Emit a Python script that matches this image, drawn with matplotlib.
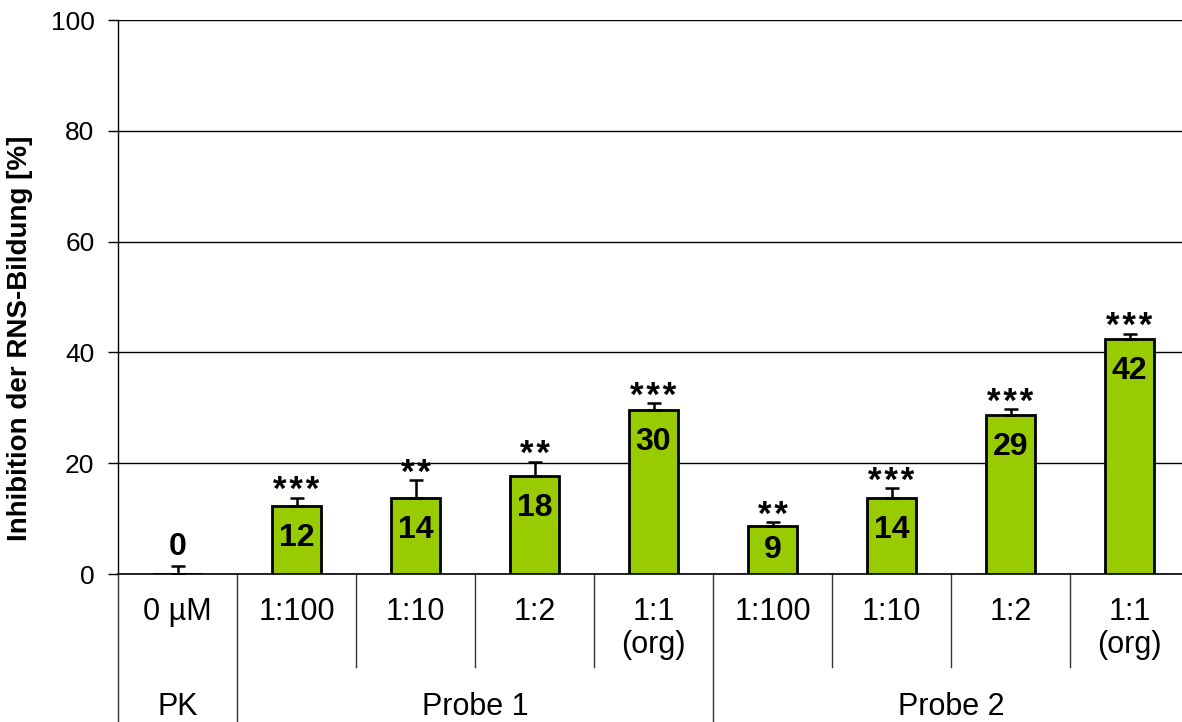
import matplotlib
matplotlib.use("Agg")
import matplotlib.pyplot as plt
from matplotlib.lines import Line2D

plt.rcParams['font.family'] = ['Liberation Sans', 'DejaVu Sans']

# Inhibition der RNS-Bildung, Mittelwerte mit Fehler (nur nach oben)
categories = ['0 µM', '1:100', '1:10', '1:2', '1:1\n(org)',
              '1:100', '1:10', '1:2', '1:1\n(org)']
groups = ['PK', 'Probe 1', 'Probe 2']
group_sizes = [1, 4, 4]
values = [0.0, 12.3, 13.7, 17.6, 29.6, 8.7, 13.7, 28.7, 42.4]
errors = [1.5, 1.5, 3.2, 2.7, 1.3, 0.6, 1.8, 1.0, 1.0]
signif = ['', '***', '**', '**', '***', '**', '***', '***', '***']

W, H = 1182, 722
fig = plt.figure(figsize=(W / 100, H / 100), dpi=100)
# plot area in pixels: left 118, 119 px per category, y 0 -> 574, 100 -> 20
x0, cw, y_zero, y_top = 118, 119, 574, 20
ax = fig.add_axes([x0 / W, (H - y_zero) / H,
                   len(categories) * cw / W, (y_zero - y_top) / H])

xs = [i + 0.5 for i in range(len(categories))]
ax.bar(xs, values, width=0.41, color='#99CC00', edgecolor='black',
       linewidth=2.0, zorder=3)
ax.errorbar(xs, values, yerr=[[0] * len(errors), errors], fmt='none',
            ecolor='black', elinewidth=1.8, capsize=5, capthick=1.8, zorder=4)

for x, v, e, s in zip(xs, values, errors, signif):
    label = f"{v:.0f}"
    if v == 0:
        ax.annotate(label, (x, v + e), xytext=(0, 3), textcoords='offset points',
                    ha='center', va='bottom', fontsize=23, fontweight='bold', zorder=5)
    elif v < 11:
        ax.text(x, v / 2, label, ha='center', va='center', fontsize=23,
                fontweight='bold', zorder=5)
    else:
        ax.annotate(label, (x, v), xytext=(0, -23), textcoords='offset points',
                    ha='center', va='center', fontsize=23, fontweight='bold', zorder=5)
    if s:
        ax.annotate('\u200a'.join(s), (x, v + e), xytext=(0, -7),
                    textcoords='offset points', ha='center', va='bottom',
                    fontsize=25, fontweight='bold', zorder=5)

ax.set_xlim(0, len(categories))
ax.set_ylim(0, 100)
ax.set_yticks(range(0, 101, 20))
ax.yaxis.grid(True, color='black', linewidth=1.0, zorder=0)
ax.set_axisbelow(True)
ax.tick_params(axis='y', direction='out', length=7, width=1, pad=10, labelsize=19)
ax.set_xticks([])
for side in ['top', 'right']:
    ax.spines[side].set_visible(False)
ax.spines['left'].set_linewidth(1.0)
ax.spines['bottom'].set_linewidth(1.2)


def ay(ypix):
    # pixel row -> axes fraction
    return (y_zero - ypix) / (y_zero - y_top)


ax.set_ylabel('Inhibition der RNS-Bildung [%]', fontsize=20, fontweight='bold')
ax.yaxis.set_label_coords(-(x0 - 33) / (len(categories) * cw), ay(338))

trans = ax.get_xaxis_transform()

# category labels
for x, c in zip(xs, categories):
    ax.text(x, ay(597), c, transform=trans, ha='center', va='top',
            fontsize=22, linespacing=1.15, clip_on=False)

# group labels and separators
starts = [0]
for n in group_sizes:
    starts.append(starts[-1] + n)
for i, g in enumerate(groups):
    ax.text((starts[i] + starts[i + 1]) / 2, ay(707), g, transform=trans,
            ha='center', va='center', fontsize=22, clip_on=False)

for b in range(len(categories) + 1):
    bottom = ay(H) if b in starts else ay(667)
    ax.add_line(Line2D([b, b], [0, bottom], transform=trans, color='#333333',
                       linewidth=1.0, clip_on=False))

fig.savefig('out.png', dpi=100)
